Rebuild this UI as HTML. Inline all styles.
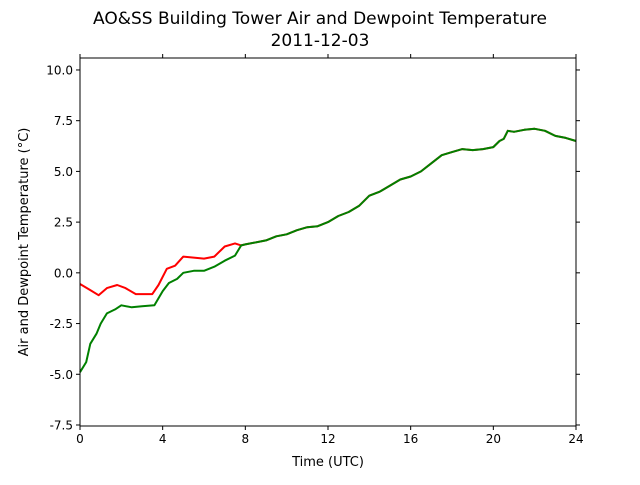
<!DOCTYPE html>
<html><head><meta charset="utf-8"><style>
body{margin:0;background:#fff;}
svg text{font-family:"DejaVu Sans","Liberation Sans",sans-serif;}
</style></head><body>
<svg id="c" width="640" height="480" xmlns="http://www.w3.org/2000/svg">
<rect width="640" height="480" fill="#fff"/>
<text x="320" y="24" font-size="17" text-anchor="middle">AO&amp;SS Building Tower Air and Dewpoint Temperature</text>
<text x="320" y="46" font-size="17" text-anchor="middle">2011-12-03</text>
<text x="328" y="466" font-size="13" text-anchor="middle">Time (UTC)</text>
<text transform="translate(28,242) rotate(-90)" font-size="13" text-anchor="middle">Air and Dewpoint Temperature (°C)</text>
<g id="plot"></g>
</svg>
<script>
const xTicks=[0,4,8,12,16,20,24];
const yTicks=[-7.5,-5.0,-2.5,0.0,2.5,5.0,7.5,10.0];
const common=[[9,1.6],[9.5,1.8],[10,1.9],[10.5,2.1],[11,2.25],[11.5,2.3],[12,2.5],[12.5,2.8],[13,3.0],[13.5,3.3],[14,3.8],[14.5,4.0],[15,4.3],[15.5,4.6],[16,4.75],[16.5,5.0],[17,5.4],[17.5,5.8],[18,5.95],[18.5,6.1],[19,6.05],[19.5,6.1],[20,6.2],[20.3,6.5],[20.5,6.6],[20.7,7.0],[21,6.95],[21.5,7.05],[22,7.1],[22.5,7.0],[23,6.75],[23.5,6.65],[24,6.5]];
const airTemp=[[0,-0.55],[0.5,-0.85],[0.9,-1.1],[1.3,-0.75],[1.8,-0.6],[2.2,-0.75],[2.7,-1.05],[3.0,-1.05],[3.5,-1.05],[3.8,-0.6],[4.2,0.2],[4.6,0.35],[5.0,0.8],[5.5,0.75],[6.0,0.7],[6.5,0.8],[7.0,1.3],[7.5,1.45],[7.8,1.35],[8,1.4]].concat(common);
const dewpoint=[[0,-4.9],[0.3,-4.4],[0.5,-3.5],[0.8,-3.0],[1.0,-2.5],[1.3,-2.0],[1.7,-1.8],[2.0,-1.6],[2.5,-1.7],[3.0,-1.65],[3.6,-1.6],[4.0,-0.9],[4.3,-0.5],[4.7,-0.3],[5.0,0.0],[5.5,0.1],[6.0,0.1],[6.5,0.3],[7.0,0.6],[7.5,0.85],[7.8,1.35],[8,1.4]].concat(common);
const L=80,R=576,T=58,B=426,xMin=0,xMax=24,yTop=10.59,yBot=-7.55;
const sx=v=>L+(v-xMin)/(xMax-xMin)*(R-L);
const sy=v=>T+(yTop-v)/(yTop-yBot)*(B-T);
const NS="http://www.w3.org/2000/svg",g=document.getElementById('plot');
function mk(t,a){const e=document.createElementNS(NS,t);for(const k in a)e.setAttribute(k,a[k]);g.appendChild(e);return e;}
function line(data,color,name){
  const p=mk('polyline',{points:data.map(d=>sx(d[0]).toFixed(1)+','+sy(d[1]).toFixed(1)).join(' '),fill:'none',stroke:color,'stroke-width':2,'stroke-linejoin':'round'});
  
  
}
line(airTemp,'#ff0000','air-temperature-line');
line(dewpoint,'#008000','dewpoint-line');
const fr=mk('rect',{x:L,y:T,width:R-L,height:B-T,fill:'none',stroke:'#000','stroke-width':1});


xTicks.forEach(v=>{const x=sx(v);
  mk('line',{x1:x,y1:B,x2:x,y2:B+4,stroke:'#000'});
  mk('line',{x1:x,y1:T,x2:x,y2:T-4,stroke:'#000'});
  const t=mk('text',{x:x,y:B+17,'font-size':12,'text-anchor':'middle'});t.textContent=v;
  
  
});
yTicks.forEach(v=>{const y=sy(v);
  mk('line',{x1:L,y1:y,x2:L-4,y2:y,stroke:'#000'});
  mk('line',{x1:R,y1:y,x2:R+4,y2:y,stroke:'#000'});
  const t=mk('text',{x:L-7,y:y+4.5,'font-size':12,'text-anchor':'end'});t.textContent=v.toFixed(1);
  
  
});
</script>
</body></html>
